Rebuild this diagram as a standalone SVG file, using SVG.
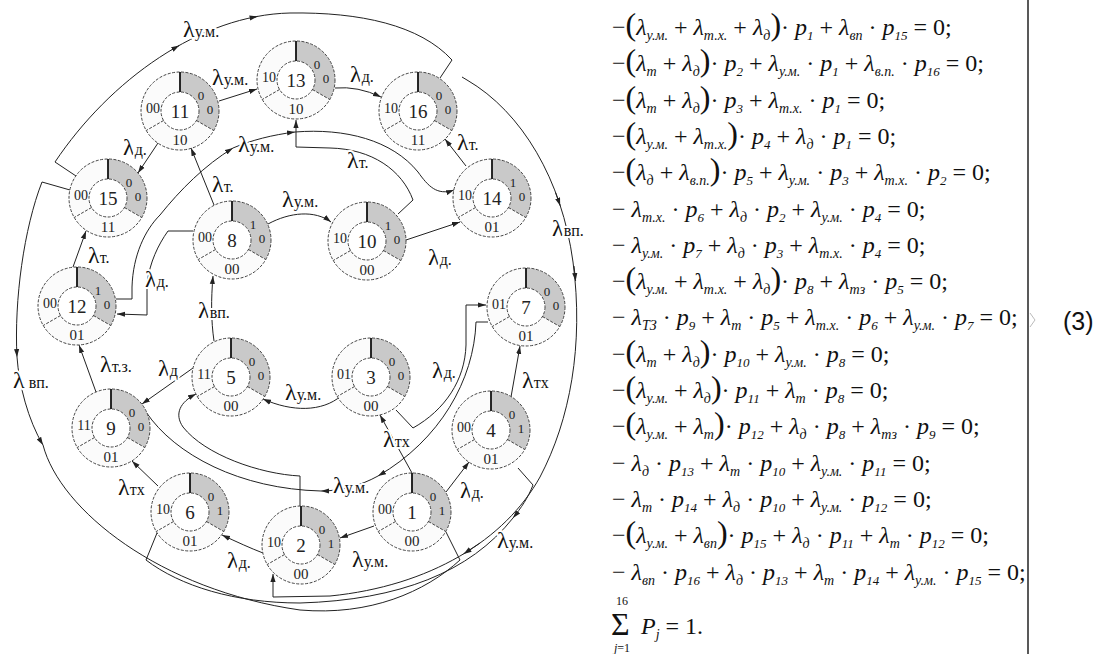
<svg xmlns="http://www.w3.org/2000/svg" width="1097" height="654" viewBox="0 0 1097 654">
<style>
.c{fill:none;stroke:#222;stroke-width:1}
.a{marker-end:url(#ah)}
.dl{stroke:#444;stroke-width:1;stroke-dasharray:3 1.5}
.nc{font-family:"Liberation Serif",serif;font-size:19px;text-anchor:middle;fill:#222}
.nl{font-family:"Liberation Serif",serif;font-size:14px;text-anchor:middle;fill:#222}
.nb{font-family:"Liberation Serif",serif;font-size:15px;text-anchor:middle;fill:#222}
.ng{font-family:"Liberation Serif",serif;font-size:13px;text-anchor:middle;fill:#222}
.lb{font-family:"Liberation Serif",serif;font-size:24px;fill:#111;paint-order:stroke;stroke:#fff;stroke-width:4px;stroke-linejoin:round}
.ls{font-size:16px}
.eq{font-family:"Liberation Serif",serif;font-size:24px;font-style:italic;fill:#111}
.u{font-style:normal}
.s{font-size:14px;baseline-shift:-5px}
.d{font-size:13px;baseline-shift:-5px}
.P{font-size:32px;font-style:normal}
.sm{font-family:"Liberation Serif",serif;font-size:12px;text-anchor:middle;fill:#111}
</style>
<defs>
<marker id="ah" viewBox="0 0 8 6" refX="8" refY="3" markerWidth="8" markerHeight="6" markerUnits="userSpaceOnUse" orient="auto"><path d="M0,0.4 L8,3 L0,5.6 Z" fill="#222"/></marker>
<g id="ring">
<circle r="39" fill="#fbfbfb"/>
<path d="M0,-39 A39,39 0 0 1 33.77,19.5 L16.45,9.5 A19,19 0 0 0 0,-19 Z" fill="#c9c9c9"/>
<circle r="39" fill="none" class="dl"/>
<circle r="19" fill="#fff" class="dl"/>
<path d="M16.45,9.5 L33.77,19.5 M-16.45,9.5 L-33.77,19.5" fill="none" class="dl"/>
<path d="M0,-19 V-39" stroke="#111" stroke-width="1.8"/>
</g>
</defs>
<rect width="1097" height="654" fill="#fff"/>
<g id="connectors">
<path class="c" d="M76,176 L55,162 C110,80 200,15 290,13 C360,12 420,25 452,60 L440,78"/>
<path class="c a" d="M171.7,49.8 L179.2,45.5"/>
<path class="c a" d="M249.6,18 L257.6,16.4"/>
<path class="c" d="M462,77 L467,80 C522,112 562,180 573,262 C584,345 570,420 540,477 C505,540 430,586 330,596 L273,597"/>
<path class="c a" d="M273,597 L273,574"/>
<path class="c a" d="M555.6,192.6 L560.2,205.7"/>
<path class="c a" d="M574,266 L575.6,281"/>
<path class="c a" d="M479.7,543.2 L463.6,553.9"/>
<path class="c a" d="M70,190 L42,182 C24,228 14,300 17,357"/>
<path class="c a" d="M17,357 C19,385 28,420 43,445"/>
<path class="c" d="M43,445 C60,510 160,590 300,610 C370,616 425,592 460,560 L446,532"/>
<path class="c a" d="M518,468 L533,485 C528,498 521,508 513,518"/>
<path class="c" d="M513,518 C470,572 400,600 300,603 C235,603 180,586 146,560 L157,533"/>
<path class="c a" d="M219,101 L257,89"/>
<path class="c a" d="M335,88 Q358,86 381,97"/>
<path class="c a" d="M158,143 L138,173"/>
<path class="c a" d="M466,166 L445,139"/>
<path class="c a" d="M406,240 L460,222"/>
<path class="c a" d="M268,224 C290,212 315,210 331,222"/>
<path class="c a" d="M214,205 L191,148"/>
<path class="c a" d="M73,267 L86,231"/>
<path class="c a" d="M96,392 L79,345"/>
<path class="c a" d="M193,368 L142,404"/>
<path class="c a" d="M214,341 C211,320 211,300 213,276"/>
<path class="c a" d="M341,396 C322,412 292,412 263,399"/>
<path class="c a" d="M412,473 L380,415"/>
<path class="c a" d="M446,492 L469,462"/>
<path class="c a" d="M374,526 L340,538"/>
<path class="c a" d="M263,553 C250,548 237,542 222,535"/>
<path class="c a" d="M158,486 L132,461"/>
<path class="c a" d="M511,397 L520,346"/>
<path class="c a" d="M396,410 L413,428 C445,410 465,380 466,345 L466,305 L486,305"/>
<path class="c a" d="M488,322 L476,322 C474,380 440,440 378,476"/>
<path class="c a" d="M378,476 C360,486 340,491 321,491"/>
<path class="c" d="M321,491 C240,489 175,455 146,412"/>
<path class="c a" d="M300,506 L300,476 C260,474 205,455 183,427 C174,414 180,402 196,394"/>
<path class="c a" d="M398,214 L413,200 C402,170 372,149 330,148 L296,147 L296,120"/>
<path class="c a" d="M116,299 L132,299 L132,287 C133,255 145,230 160,215 C180,190 205,165 233,148"/>
<path class="c a" d="M233,148 C252,140 272,135 295,132"/>
<path class="c a" d="M295,132 C345,128 392,140 418,172 C428,186 437,196 454,190"/>
<path class="c a" d="M193,231 L168,231 C158,245 150,262 147,283 L147,315 L117,314"/>
</g>
<g id="node1" transform="translate(412,512)"><use href="#ring"/><text class="nc" y="7">1</text><text class="nl" x="-27" y="2">00</text><text class="nb" y="34">00</text><text class="ng" x="21" y="-11">0</text><text class="ng" x="30" y="3">1</text></g>
<g id="node2" transform="translate(301,545)"><use href="#ring"/><text class="nc" y="7">2</text><text class="nl" x="-27" y="2">10</text><text class="nb" y="34">00</text><text class="ng" x="21" y="-11">0</text><text class="ng" x="30" y="3">1</text></g>
<g id="node3" transform="translate(371,377)"><use href="#ring"/><text class="nc" y="7">3</text><text class="nl" x="-27" y="2">01</text><text class="nb" y="34">00</text><text class="ng" x="21" y="-11">0</text><text class="ng" x="30" y="3">0</text></g>
<g id="node4" transform="translate(491,430)"><use href="#ring"/><text class="nc" y="7">4</text><text class="nl" x="-27" y="2">00</text><text class="nb" y="34">01</text><text class="ng" x="21" y="-11">0</text><text class="ng" x="30" y="3">1</text></g>
<g id="node5" transform="translate(231,377)"><use href="#ring"/><text class="nc" y="7">5</text><text class="nl" x="-27" y="2">11</text><text class="nb" y="34">00</text><text class="ng" x="21" y="-11">0</text><text class="ng" x="30" y="3">0</text></g>
<g id="node6" transform="translate(190,512)"><use href="#ring"/><text class="nc" y="7">6</text><text class="nl" x="-27" y="2">10</text><text class="nb" y="34">01</text><text class="ng" x="21" y="-11">0</text><text class="ng" x="30" y="3">1</text></g>
<g id="node7" transform="translate(526,307)"><use href="#ring"/><text class="nc" y="7">7</text><text class="nl" x="-27" y="2">01</text><text class="nb" y="34">01</text><text class="ng" x="21" y="-11">0</text><text class="ng" x="30" y="3">0</text></g>
<g id="node8" transform="translate(232,240)"><use href="#ring"/><text class="nc" y="7">8</text><text class="nl" x="-27" y="2">00</text><text class="nb" y="34">00</text><text class="ng" x="21" y="-11">1</text><text class="ng" x="30" y="3">0</text></g>
<g id="node9" transform="translate(111,428)"><use href="#ring"/><text class="nc" y="7">9</text><text class="nl" x="-27" y="2">11</text><text class="nb" y="34">01</text><text class="ng" x="21" y="-11">0</text><text class="ng" x="30" y="3">0</text></g>
<g id="node10" transform="translate(367,241)"><use href="#ring"/><text class="nc" y="7">10</text><text class="nl" x="-27" y="2">10</text><text class="nb" y="34">00</text><text class="ng" x="21" y="-11">1</text><text class="ng" x="30" y="3">0</text></g>
<g id="node11" transform="translate(180,111)"><use href="#ring"/><text class="nc" y="7">11</text><text class="nl" x="-27" y="2">00</text><text class="nb" y="34">10</text><text class="ng" x="21" y="-11">0</text><text class="ng" x="30" y="3">0</text></g>
<g id="node12" transform="translate(77,306)"><use href="#ring"/><text class="nc" y="7">12</text><text class="nl" x="-27" y="2">00</text><text class="nb" y="34">01</text><text class="ng" x="21" y="-11">1</text><text class="ng" x="30" y="3">0</text></g>
<g id="node13" transform="translate(296,80)"><use href="#ring"/><text class="nc" y="7">13</text><text class="nl" x="-27" y="2">10</text><text class="nb" y="34">10</text><text class="ng" x="21" y="-11">0</text><text class="ng" x="30" y="3">0</text></g>
<g id="node14" transform="translate(492,198)"><use href="#ring"/><text class="nc" y="7">14</text><text class="nl" x="-27" y="2">10</text><text class="nb" y="34">01</text><text class="ng" x="21" y="-11">1</text><text class="ng" x="30" y="3">0</text></g>
<g id="node15" transform="translate(108,198)"><use href="#ring"/><text class="nc" y="7">15</text><text class="nl" x="-27" y="2">00</text><text class="nb" y="34">11</text><text class="ng" x="21" y="-11">0</text><text class="ng" x="30" y="3">0</text></g>
<g id="node16" transform="translate(418,111)"><use href="#ring"/><text class="nc" y="7">16</text><text class="nl" x="-27" y="2">10</text><text class="nb" y="34">11</text><text class="ng" x="21" y="-11">0</text><text class="ng" x="30" y="3">0</text></g>
<g id="labels">
<text class="lb" x="183" y="37">λ<tspan class="ls">у.м.</tspan></text>
<text class="lb" x="212" y="85">λ<tspan class="ls">у.м.</tspan></text>
<text class="lb" x="350" y="82">λ<tspan class="ls">д.</tspan></text>
<text class="lb" x="123" y="155">λ<tspan class="ls">д.</tspan></text>
<text class="lb" x="238" y="152">λ<tspan class="ls">у.м.</tspan></text>
<text class="lb" x="457" y="150">λ<tspan class="ls">т.</tspan></text>
<text class="lb" x="347" y="168">λ<tspan class="ls">т.</tspan></text>
<text class="lb" x="212" y="192">λ<tspan class="ls">т.</tspan></text>
<text class="lb" x="282" y="207">λ<tspan class="ls">у.м.</tspan></text>
<text class="lb" x="552" y="236">λ<tspan class="ls">вп.</tspan></text>
<text class="lb" x="428" y="265">λ<tspan class="ls">д.</tspan></text>
<text class="lb" x="88" y="263">λ<tspan class="ls">т.</tspan></text>
<text class="lb" x="145" y="287">λ<tspan class="ls">д.</tspan></text>
<text class="lb" x="198" y="318">λ<tspan class="ls">вп.</tspan></text>
<text class="lb" x="13" y="388">λ<tspan class="ls" dx="4">вп.</tspan></text>
<text class="lb" x="100" y="372">λ<tspan class="ls">т.з.</tspan></text>
<text class="lb" x="158" y="376">λ<tspan class="ls">д</tspan></text>
<text class="lb" x="285" y="400">λ<tspan class="ls">у.м.</tspan></text>
<text class="lb" x="432" y="378">λ<tspan class="ls">д.</tspan></text>
<text class="lb" x="522" y="388">λ<tspan class="ls">тх</tspan></text>
<text class="lb" x="383" y="447">λ<tspan class="ls">тх</tspan></text>
<text class="lb" x="333" y="493">λ<tspan class="ls">у.м.</tspan></text>
<text class="lb" x="460" y="498">λ<tspan class="ls">д.</tspan></text>
<text class="lb" x="118" y="495">λ<tspan class="ls">тх</tspan></text>
<text class="lb" x="227" y="568">λ<tspan class="ls">д.</tspan></text>
<text class="lb" x="352" y="567">λ<tspan class="ls">у.м.</tspan></text>
<text class="lb" x="497" y="548">λ<tspan class="ls">у.м.</tspan></text>
</g>
<g id="equations">
<text class="eq" x="612" y="35"><tspan class="u">−</tspan><tspan class="P">(</tspan>λ<tspan class="s">у.м.</tspan><tspan class="u"> + </tspan>λ<tspan class="s">т.х.</tspan><tspan class="u"> + </tspan>λ<tspan class="s">д</tspan><tspan class="P">)</tspan><tspan class="u">· </tspan>p<tspan class="d">1</tspan><tspan class="u"> + </tspan>λ<tspan class="s">вп</tspan><tspan class="u"> · </tspan>p<tspan class="d">15</tspan><tspan class="u"> = 0;</tspan></text>
<text class="eq" x="612" y="71.3"><tspan class="u">−</tspan><tspan class="P">(</tspan>λ<tspan class="s">т</tspan><tspan class="u"> + </tspan>λ<tspan class="s">д</tspan><tspan class="P">)</tspan><tspan class="u">· </tspan>p<tspan class="d">2</tspan><tspan class="u"> + </tspan>λ<tspan class="s">у.м.</tspan><tspan class="u"> · </tspan>p<tspan class="d">1</tspan><tspan class="u"> + </tspan>λ<tspan class="s">в.п.</tspan><tspan class="u"> · </tspan>p<tspan class="d">16</tspan><tspan class="u"> = 0;</tspan></text>
<text class="eq" x="612" y="107.6"><tspan class="u">−</tspan><tspan class="P">(</tspan>λ<tspan class="s">т</tspan><tspan class="u"> + </tspan>λ<tspan class="s">д</tspan><tspan class="P">)</tspan><tspan class="u">· </tspan>p<tspan class="d">3</tspan><tspan class="u"> + </tspan>λ<tspan class="s">т.х.</tspan><tspan class="u"> · </tspan>p<tspan class="d">1</tspan><tspan class="u"> = 0;</tspan></text>
<text class="eq" x="612" y="143.9"><tspan class="u">−</tspan><tspan class="P">(</tspan>λ<tspan class="s">у.м.</tspan><tspan class="u"> + </tspan>λ<tspan class="s">т.х.</tspan><tspan class="P">)</tspan><tspan class="u">· </tspan>p<tspan class="d">4</tspan><tspan class="u"> + </tspan>λ<tspan class="s">д</tspan><tspan class="u"> · </tspan>p<tspan class="d">1</tspan><tspan class="u"> = 0;</tspan></text>
<text class="eq" x="612" y="180.2"><tspan class="u">−</tspan><tspan class="P">(</tspan>λ<tspan class="s">д</tspan><tspan class="u"> + </tspan>λ<tspan class="s">в.п.</tspan><tspan class="P">)</tspan><tspan class="u">· </tspan>p<tspan class="d">5</tspan><tspan class="u"> + </tspan>λ<tspan class="s">у.м.</tspan><tspan class="u"> · </tspan>p<tspan class="d">3</tspan><tspan class="u"> + </tspan>λ<tspan class="s">т.х.</tspan><tspan class="u"> · </tspan>p<tspan class="d">2</tspan><tspan class="u"> = 0;</tspan></text>
<text class="eq" x="612" y="216.5"><tspan class="u">− </tspan>λ<tspan class="s">т.х.</tspan><tspan class="u"> · </tspan>p<tspan class="d">6</tspan><tspan class="u"> + </tspan>λ<tspan class="s">д</tspan><tspan class="u"> · </tspan>p<tspan class="d">2</tspan><tspan class="u"> + </tspan>λ<tspan class="s">у.м.</tspan><tspan class="u"> · </tspan>p<tspan class="d">4</tspan><tspan class="u"> = 0;</tspan></text>
<text class="eq" x="612" y="252.8"><tspan class="u">− </tspan>λ<tspan class="s">у.м.</tspan><tspan class="u"> · </tspan>p<tspan class="d">7</tspan><tspan class="u"> + </tspan>λ<tspan class="s">д</tspan><tspan class="u"> · </tspan>p<tspan class="d">3</tspan><tspan class="u"> + </tspan>λ<tspan class="s">т.х.</tspan><tspan class="u"> · </tspan>p<tspan class="d">4</tspan><tspan class="u"> = 0;</tspan></text>
<text class="eq" x="612" y="289.1"><tspan class="u">−</tspan><tspan class="P">(</tspan>λ<tspan class="s">у.м.</tspan><tspan class="u"> + </tspan>λ<tspan class="s">т.х.</tspan><tspan class="u"> + </tspan>λ<tspan class="s">д</tspan><tspan class="P">)</tspan><tspan class="u">· </tspan>p<tspan class="d">8</tspan><tspan class="u"> + </tspan>λ<tspan class="s">тз</tspan><tspan class="u"> · </tspan>p<tspan class="d">5</tspan><tspan class="u"> = 0;</tspan></text>
<text class="eq" x="612" y="325.4"><tspan class="u">− </tspan>λ<tspan class="s">ТЗ</tspan><tspan class="u"> · </tspan>p<tspan class="d">9</tspan><tspan class="u"> + </tspan>λ<tspan class="s">т</tspan><tspan class="u"> · </tspan>p<tspan class="d">5</tspan><tspan class="u"> + </tspan>λ<tspan class="s">т.х.</tspan><tspan class="u"> · </tspan>p<tspan class="d">6</tspan><tspan class="u"> + </tspan>λ<tspan class="s">у.м.</tspan><tspan class="u"> · </tspan>p<tspan class="d">7</tspan><tspan class="u"> = 0;</tspan></text>
<text class="eq" x="612" y="361.7"><tspan class="u">−</tspan><tspan class="P">(</tspan>λ<tspan class="s">т</tspan><tspan class="u"> + </tspan>λ<tspan class="s">д</tspan><tspan class="P">)</tspan><tspan class="u">· </tspan>p<tspan class="d">10</tspan><tspan class="u"> + </tspan>λ<tspan class="s">у.м.</tspan><tspan class="u"> · </tspan>p<tspan class="d">8</tspan><tspan class="u"> = 0;</tspan></text>
<text class="eq" x="612" y="398"><tspan class="u">−</tspan><tspan class="P">(</tspan>λ<tspan class="s">у.м.</tspan><tspan class="u"> + </tspan>λ<tspan class="s">д</tspan><tspan class="P">)</tspan><tspan class="u">· </tspan>p<tspan class="d">11</tspan><tspan class="u"> + </tspan>λ<tspan class="s">т</tspan><tspan class="u"> · </tspan>p<tspan class="d">8</tspan><tspan class="u"> = 0;</tspan></text>
<text class="eq" x="612" y="434.3"><tspan class="u">−</tspan><tspan class="P">(</tspan>λ<tspan class="s">у.м.</tspan><tspan class="u"> + </tspan>λ<tspan class="s">т</tspan><tspan class="P">)</tspan><tspan class="u">· </tspan>p<tspan class="d">12</tspan><tspan class="u"> + </tspan>λ<tspan class="s">д</tspan><tspan class="u"> · </tspan>p<tspan class="d">8</tspan><tspan class="u"> + </tspan>λ<tspan class="s">тз</tspan><tspan class="u"> · </tspan>p<tspan class="d">9</tspan><tspan class="u"> = 0;</tspan></text>
<text class="eq" x="612" y="470.6"><tspan class="u">− </tspan>λ<tspan class="s">д</tspan><tspan class="u"> · </tspan>p<tspan class="d">13</tspan><tspan class="u"> + </tspan>λ<tspan class="s">т</tspan><tspan class="u"> · </tspan>p<tspan class="d">10</tspan><tspan class="u"> + </tspan>λ<tspan class="s">у.м.</tspan><tspan class="u"> · </tspan>p<tspan class="d">11</tspan><tspan class="u"> = 0;</tspan></text>
<text class="eq" x="612" y="506.9"><tspan class="u">− </tspan>λ<tspan class="s">т</tspan><tspan class="u"> · </tspan>p<tspan class="d">14</tspan><tspan class="u"> + </tspan>λ<tspan class="s">д</tspan><tspan class="u"> · </tspan>p<tspan class="d">10</tspan><tspan class="u"> + </tspan>λ<tspan class="s">у.м.</tspan><tspan class="u"> · </tspan>p<tspan class="d">12</tspan><tspan class="u"> = 0;</tspan></text>
<text class="eq" x="612" y="543.2"><tspan class="u">−</tspan><tspan class="P">(</tspan>λ<tspan class="s">у.м.</tspan><tspan class="u"> + </tspan>λ<tspan class="s">вп</tspan><tspan class="P">)</tspan><tspan class="u">· </tspan>p<tspan class="d">15</tspan><tspan class="u"> + </tspan>λ<tspan class="s">д</tspan><tspan class="u"> · </tspan>p<tspan class="d">11</tspan><tspan class="u"> + </tspan>λ<tspan class="s">т</tspan><tspan class="u"> · </tspan>p<tspan class="d">12</tspan><tspan class="u"> = 0;</tspan></text>
<text class="eq" x="612" y="579.5"><tspan class="u">− </tspan>λ<tspan class="s">вп</tspan><tspan class="u"> · </tspan>p<tspan class="d">16</tspan><tspan class="u"> + </tspan>λ<tspan class="s">д</tspan><tspan class="u"> · </tspan>p<tspan class="d">13</tspan><tspan class="u"> + </tspan>λ<tspan class="s">т</tspan><tspan class="u"> · </tspan>p<tspan class="d">14</tspan><tspan class="u"> + </tspan>λ<tspan class="s">у.м.</tspan><tspan class="u"> · </tspan>p<tspan class="d">15</tspan><tspan class="u"> = 0;</tspan></text>
<text x="611" y="635" style="font-family:'Liberation Serif',serif;font-size:32px;fill:#111">Σ</text>
<text class="eq" x="641" y="634">P<tspan class="s">j</tspan><tspan class="u"> = 1.</tspan></text>
<text class="sm" x="622" y="605">16</text>
<text class="sm" x="622" y="652"><tspan font-style="italic">j</tspan>=1</text>
<path d="M1028,0 V654" stroke="#222" stroke-width="1.5"/>
<path d="M1030,313 L1035,320 L1030,327" fill="none" stroke="#bbb" stroke-width="1"/>
<text x="1063" y="330" font-family="'Liberation Sans',sans-serif" font-size="25" fill="#111">(3)</text>
</g>
</svg>
